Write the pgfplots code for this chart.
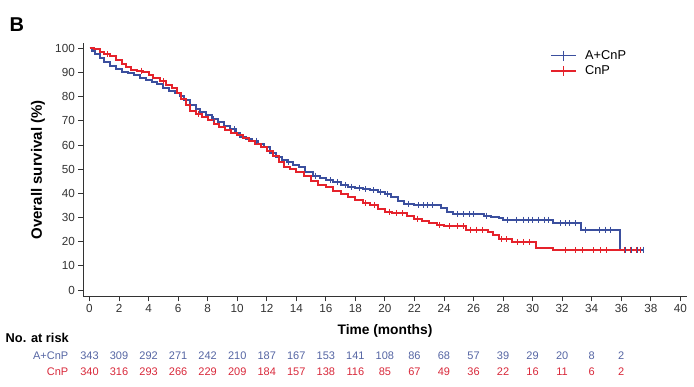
\documentclass[border=0pt]{standalone}
\usepackage{pgfplots}
\pgfplotsset{compat=1.18}
\usepackage{fontspec}
\setmainfont{Liberation Sans}
\definecolor{kmblue}{HTML}{3B4F9E}
\definecolor{kmred}{HTML}{E5222B}
\definecolor{tabblue}{HTML}{5565A3}
\definecolor{tabred}{HTML}{D8283A}
\definecolor{axgray}{HTML}{333333}
\begin{document}
\begin{tikzpicture}
\path (0pt,0pt) rectangle (694pt,387pt);
\begin{axis}[
  at={(83.3pt,90.7pt)}, anchor=south west,
  width=603.4pt, height=253pt, scale only axis,
  xmin=-0.42, xmax=40.43, ymin=-2.6, ymax=102.1,
  axis x line=bottom, axis y line=left,
  axis line style={-, axgray, line width=1.1pt},
  xtick={0,2,...,40}, ytick={0,10,...,100},
  tick style={axgray, line width=0.9pt},
  tick align=outside, major tick length=5pt,
  ticklabel style={font=\fontsize{11.7}{13}\selectfont, text=axgray},
  /pgf/number format/assume math mode=true,
  xlabel={\bfseries Time (months)},
  ylabel={\bfseries Overall survival (\%)},
  xlabel style={at={(axis description cs:0.5,-0.136)}, anchor=center, font=\fontsize{13.8}{15}\selectfont},
  ylabel style={at={(axis description cs:-0.075,0.5)}, anchor=center, font=\fontsize{15}{17}\selectfont},
  clip=false,
  legend style={at={(0.7735,0.921)}, anchor=west, draw=none, fill=none, inner sep=0pt,
    font=\fontsize{12.8}{14}\selectfont, row sep=2pt,
    nodes={inner sep=1.5pt},
    /tikz/every odd column/.append style={column sep=7pt}},
  legend cell align=left,
  legend image code/.code={\draw[#1] plot coordinates {(0pt,0pt) (12.5pt,0pt) (25pt,0pt)}; \draw[#1, mark=|, mark size=5pt, mark options={solid}] plot coordinates {(12.5pt,0pt)};},
]
\addlegendimage{kmblue, line width=1.4pt}
\addlegendentry{A+CnP}
\addlegendimage{kmred, line width=1.4pt}
\addlegendentry{CnP}
% A+CnP
\addplot[kmblue, line width=2pt, const plot, forget plot] coordinates {
(0,100) (0.2,99) (0.4,97.5) (0.7,96) (1.0,94.5) (1.4,92.8) (1.8,91.3) (2.2,90.4) (2.6,89.6)
(3.0,88.8) (3.4,87.8) (3.8,87.0) (4.2,86.2) (4.6,85.1) (5.0,83.5) (5.4,82.3) (5.8,81.5)
(6.1,80.2) (6.4,78.5) (6.8,76.5) (7.2,75.0) (7.5,73.8) (7.9,72.3) (8.3,70.6) (8.7,69.5)
(9.1,68.0) (9.5,66.5) (9.9,64.8) (10.2,63.3) (10.6,62.5) (11.0,61.8) (11.4,60.5) (11.8,59.0)
(12.2,56.8) (12.6,55.0) (13.0,53.8) (13.4,52.8) (13.8,51.8) (14.2,50.8) (14.6,49.0) (15.1,47.3)
(15.6,46.3) (16.0,45.5) (16.5,44.8) (17.0,43.5) (17.5,42.8) (18.0,42.3) (18.5,41.8) (19.0,41.2)
(19.5,40.5) (20.0,39.8) (20.4,38.6) (20.9,36.9) (21.3,35.8) (22.0,35.0) (23.5,35.0) (23.8,33.8)
(24.2,32.2) (24.6,31.5) (26.4,31.5) (26.7,30.8) (27.2,30.2) (27.7,29.6) (28.0,29.1) (31.4,27.7)
(33.3,25.0) (35.9,16.7) (37.5,16.7)
};
\addplot[kmblue, only marks, mark=|, mark size=3pt, mark options={line width=0.9pt}, forget plot] coordinates {
(8.4,70.6) (9.8,66.5) (11.3,61.8) (13.5,52.8) (15.3,47.3)
(16.3,45.5) (16.8,44.8) (17.3,43.5) (17.7,42.8) (18.3,42.3) (18.7,41.8) (19.2,41.2) (19.7,40.5)
(20.2,39.8) (21.6,35.8) (22.3,35) (22.6,35) (22.9,35) (23.2,35) (24.9,31.5) (25.3,31.5) (25.7,31.5)
(26.0,31.5) (26.9,30.8) (28.3,29.1) (28.9,29.1) (29.4,29.1) (29.7,29.1) (30.0,29.1) (30.4,29.1)
(30.8,29.1) (31.1,29.1) (31.9,27.7) (32.2,27.7) (32.5,27.7) (32.9,27.7) (33.6,25) (34.5,25)
(34.9,25) (35.3,25) (36.3,16.7) (36.7,16.7) (37.1,16.7) (37.5,16.7)
};
% CnP
\addplot[kmred, line width=2pt, const plot, forget plot] coordinates {
(0,100) (0.3,99.7) (0.7,98.5) (1.0,97.6) (1.4,96.7) (1.8,95.3) (2.2,93.5) (2.5,92.3) (2.8,91.2)
(3.2,90.8) (3.6,90.2) (4.0,89.0) (4.3,87.8) (4.8,86.3) (5.2,85.0) (5.6,83.5) (5.9,81.5)
(6.2,79.0) (6.5,76.5) (6.8,74.2) (7.2,73.0) (7.6,71.5) (8.0,70.3) (8.4,68.8) (8.8,67.3)
(9.2,66.2) (9.6,65.0) (10.0,64.0) (10.4,63.0) (10.8,61.8) (11.2,60.4) (11.6,59.2) (12.0,57.5)
(12.4,55.5) (12.8,53.0) (13.2,51.0) (13.6,50.2) (14.0,49.0) (14.5,47.3) (15.0,45.0) (15.5,43.5)
(16.0,42.5) (16.5,41.0) (17.0,39.8) (17.5,38.5) (18.0,37.3) (18.5,35.9) (19.0,35.0) (19.5,33.6)
(20.0,32.4) (20.5,31.9) (21.0,31.8) (21.5,30.6) (22.0,29.5) (22.5,28.6) (23.0,27.8) (23.5,26.8)
(24.0,26.3) (25.5,25.0) (27.0,24.0) (27.3,22.6) (27.7,21.0) (28.6,19.9) (30.2,17.4) (31.4,16.5)
(37.3,16.5)
};
\addplot[kmred, only marks, mark=|, mark size=3pt, mark options={line width=0.9pt}, forget plot] coordinates {
(1.2,97.6) (3.5,90.8) (5.0,86.3) (7.4,73.0) (18.7,35.9) (19.3,35) (20.3,32.4) (20.8,31.9) (21.2,31.8)
(22.2,29.5) (23.7,26.8) (24.4,26.3) (24.9,26.3) (25.3,26.3) (25.8,25) (26.2,25) (26.6,25)
(27.9,21) (28.2,21) (29.0,19.9) (29.4,19.9) (29.8,19.9) (32.2,16.5) (32.9,16.5) (33.4,16.5)
(34.1,16.5) (34.6,16.5) (35.0,16.5) (36.2,16.5) (36.6,16.5) (37.0,16.5) (37.3,16.5)
};
\end{axis}
\node[font=\bfseries\fontsize{20}{22}\selectfont, anchor=west, inner sep=0pt] at (9.5pt,362.5pt) {B};
\node[font=\bfseries\fontsize{12.8}{14}\selectfont, anchor=west, inner sep=0pt] at (5.5pt,49pt) {No. at risk};
\node[font=\fontsize{11}{13}\selectfont, text=tabblue, anchor=east, inner sep=0pt] at (68.5pt,31.3pt) {A+CnP};
\node[font=\fontsize{11}{13}\selectfont, text=tabred, anchor=east, inner sep=0pt] at (68.5pt,15.3pt) {CnP};
\foreach \v [count=\i from 0] in {343,309,292,271,242,210,187,167,153,141,108,86,68,57,39,29,20,8,2}
  \node[font=\fontsize{11}{13}\selectfont, text=tabblue, inner sep=0pt] at ({(89.5+29.54*\i)*1pt},31.3pt) {\v};
\foreach \v [count=\i from 0] in {340,316,293,266,229,209,184,157,138,116,85,67,49,36,22,16,11,6,2}
  \node[font=\fontsize{11}{13}\selectfont, text=tabred, inner sep=0pt] at ({(89.5+29.54*\i)*1pt},15.3pt) {\v};
\end{tikzpicture}
\end{document}
